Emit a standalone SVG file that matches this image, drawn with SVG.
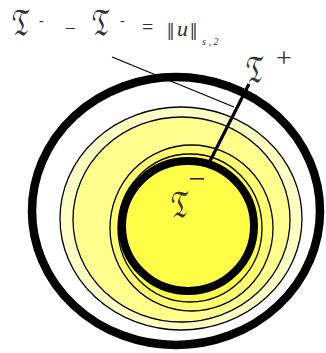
<svg xmlns="http://www.w3.org/2000/svg" width="326" height="353" viewBox="0 0 326 353">
<style>
.ring{stroke:#000;stroke-width:1.3}
.thick{fill:none;stroke:#000}
.t{font-family:"DejaVu Math TeX Gyre","DejaVu Serif","Noto Sans",serif;fill:#333;font-size:28px}
.l{font-family:"Liberation Serif",serif;fill:#333}
</style>
<rect width="326" height="353" fill="#fff"/>
<g id="outer-boundary">
<ellipse cx="176" cy="211" rx="144" ry="134" class="thick" stroke-width="8.5"/>
</g>
<g id="rings">
<ellipse cx="181" cy="218.5" rx="121" ry="111.5" class="ring" fill="#FFFFC4"/>
<ellipse cx="181.5" cy="219.5" rx="108.5" ry="102.5" class="ring" fill="#FFFF8E"/>
<ellipse cx="191.5" cy="228" rx="81.5" ry="83" class="ring" fill="#FFFF70"/>
<ellipse cx="190" cy="228" rx="72" ry="74" class="ring" fill="#FFFF48"/>
</g>
<g id="inner-region">
<ellipse cx="188" cy="226" rx="66" ry="65" fill="#FFFF00" class="thick" stroke-width="8"/>
<text class="t" transform="translate(170 216) scale(0.8 1.15)">𝔗</text>
<rect x="190" y="178" width="14" height="1.6" fill="#222"/>
</g>
<g id="connectors">
<line x1="112" y1="57" x2="234" y2="107" stroke="#000" stroke-width="1.3"/>
<line x1="210" y1="161" x2="249" y2="84" stroke="#000" stroke-width="3.2"/>
</g>
<g id="outer-label">
<text class="t" transform="translate(245 81) scale(0.8 1.15)">𝔗</text>
<text class="l" x="276" y="67" font-size="28">+</text>
</g>
<g id="formula">
<text class="t" transform="translate(11 34) scale(0.8 1.15)">𝔗</text>
<text class="l" x="39" y="25" font-size="14">-</text>
<text class="l" x="66" y="33" font-size="18">–</text>
<text class="t" transform="translate(91 34) scale(0.8 1.15)">𝔗</text>
<text class="l" x="120" y="25" font-size="14">-</text>
<text class="l" x="142" y="34" font-size="20">=</text>
<text class="l" x="167" y="40" font-size="26">‖</text>
<text class="l" x="177" y="36" font-size="22" font-style="italic">u</text>
<text class="l" x="190" y="40" font-size="26">‖</text>
<text class="l" x="202" y="45" font-size="10" font-style="italic">s , 2</text>
</g>
</svg>
